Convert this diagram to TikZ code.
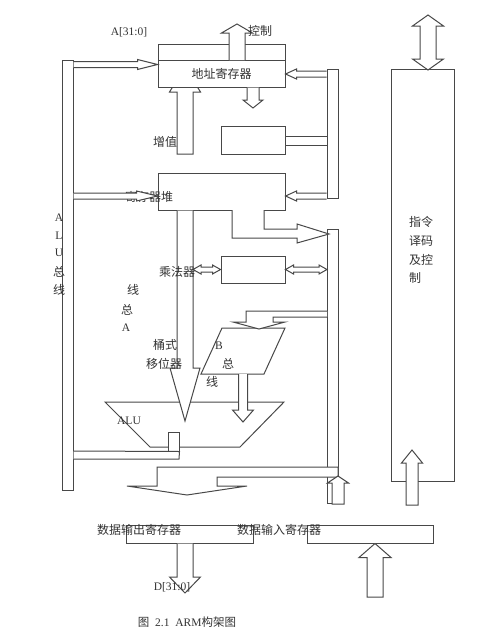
\documentclass[tikz,border=0pt]{standalone}
\usepackage{fontspec}
\setmainfont{Liberation Serif}
\newfontfamily\cjk{Noto Sans CJK SC}
\usetikzlibrary{calc}
\definecolor{ink}{HTML}{484848}
\definecolor{txt}{HTML}{333333}
\tikzset{
  box/.style={rectangle,draw=ink,fill=white,line width=1pt,inner sep=0pt,font=\fontsize{12}{12}\cjk,text=txt},
  wire/.style={draw=ink,fill=white,line width=1pt,line join=miter},
  lbl/.style={inner sep=0pt,font=\fontsize{12}{12}\cjk,text=txt},
  lat/.style={inner sep=0pt,font=\fontsize{11.5}{12}\selectfont,text=txt},
}
% from, to, shaft half width, head half width, head length; [-- cycle] closes the tail
\newcommand{\blockar}[6][]{%
  \coordinate (hb) at ($(#3)!#6pt!(#2)$);
  \draw[wire] ($(#2)!#4pt!90:(#3)$) -- ($(hb)!#4pt!90:(#3)$) -- ($(hb)!#5pt!90:(#3)$) -- (#3)
    -- ($(hb)!#5pt!-90:(#3)$) -- ($(hb)!#4pt!-90:(#3)$) -- ($(#2)!#4pt!-90:(#3)$) #1;}
\newcommand{\twinar}[5]{%
  \coordinate (ha) at ($(#1)!#5pt!(#2)$);
  \coordinate (hb) at ($(#2)!#5pt!(#1)$);
  \draw[wire] (#1) -- ($(ha)!#4pt!90:(#2)$) -- ($(ha)!#3pt!90:(#2)$) -- ($(hb)!#3pt!-90:(#1)$) -- ($(hb)!#4pt!-90:(#1)$) -- (#2)
    -- ($(hb)!#4pt!90:(#1)$) -- ($(hb)!#3pt!90:(#1)$) -- ($(ha)!#3pt!-90:(#2)$) -- ($(ha)!#4pt!-90:(#2)$) -- cycle;}
\begin{document}
\begin{tikzpicture}[x=1pt,y=-1pt]
  \path[use as bounding box,fill=white] (0,0) rectangle (491,640);
  % arrow whose tip sits behind the address register
  \coordinate (inctail) at (185,154);
  \coordinate (inctip) at (185,67);
  \blockar[-- cycle]{inctail}{inctip}{8}{15.5}{25}
  % registers
  \node[box,minimum width=127pt,minimum height=16pt] (addrtop) at (221.5,52) {};
  \node[box,minimum width=127pt,minimum height=27pt] (addr) at (221.5,73.5) {地址寄存器};
  \node[box,minimum width=64pt,minimum height=28pt] (inc) at (253,140) {};
  \node[box,minimum width=127pt,minimum height=37pt] (regs) at (221.5,191.5) {};
  \node[box,minimum width=64pt,minimum height=27pt] (mul) at (253,269.5) {};
  \node[box,minimum width=63pt,minimum height=412pt] (ctrl) at (422.5,275) {};
  \node[box,minimum width=127pt,minimum height=18pt] (dout) at (189.5,534) {};
  \node[box,minimum width=126pt,minimum height=18pt] (din) at (370,534) {};
  % buses
  \node[box,minimum width=11pt,minimum height=430pt] (alubus) at (67.5,275) {};
  \node[box,minimum width=11pt,minimum height=129pt] (rbusa) at (332.5,133.5) {};
  \draw[wire] (327,503) -- (327,229) -- (338,229) -- (338,477);
  \draw[wire,fill=none] (327,503) -- (333,503);
  % shifter and ALU
  \draw[wire] (222,328) -- (285,328) -- (264,374) -- (201,374) -- cycle;
  \draw[wire] (105,402) -- (284,402) -- (240,447) -- (150,447) -- cycle;
  % text the arrow runs over
  \node[lbl] (regtxt) at (149,197) {寄存器堆};
  % address side arrows
  \blockar{alubus.east |- 0,64.5}{addr.west |- 0,64.5}{3}{5}{20}
  \blockar{rbusa.west |- 0,74}{addr.east |- 0,74}{3}{5}{11}
  \blockar{addr.south -| 253,0}{253,108}{6}{10}{8}
  \coordinate (ctltail) at (237,60);
  \coordinate (ctltip) at (237,24);
  \blockar{ctltail}{ctltip}{8}{15.5}{9}
  \foreach \y in {136,145} \draw[wire] (inc.east |- 0,\y) -- (rbusa.west |- 0,\y);
  % register file arrows
  \blockar{alubus.east |- 0,196}{regs.west |- 0,196}{3}{5}{21}
  \blockar{rbusa.west |- 0,196}{regs.east |- 0,196}{3}{5}{11}
  \draw[wire] (232,210) -- (232,238) -- (297,238) -- (297,243) -- (329,234) -- (297,224) -- (297,229) -- (264,229) -- (264,210);
  \blockar{regs.south -| 185,0}{185,421}{8}{15}{53}
  % multiplier
  \twinar{193,269.5}{mul.west}{2.5}{4.5}{8}
  \twinar{mul.east}{327,269.5}{2.5}{4.5}{8}
  % barrel shifter in and out
  \draw[wire] (327,311) -- (246,311) -- (246,322) -- (233,322) -- (259,329) -- (285,322) -- (273,322) -- (273,317) -- (327,317);
  \blockar{243,374}{243,422}{4.5}{10.5}{12}
  % ALU out
  \node[box,minimum width=11pt,minimum height=19pt] (aluout) at (173.5,441.5) {};
  \draw[wire] (alubus.east |- 0,451) -- (aluout.south east) -- (179,459) -- (alubus.east |- 0,459);
  % data out band
  \draw[wire] (338,467) -- (157,467) -- (157,486) -- (127,486) -- (187,495) -- (247,486) -- (217,486) -- (217,477) -- (338,477) -- cycle;
  \blockar[-- cycle]{338,504}{338,476}{6}{10.5}{7}
  % instruction decode
  \twinar{428,15}{428,70}{8}{15.5}{11}
  \blockar[-- cycle]{412,505}{412,450}{6}{10.5}{13}
  % data registers
  \blockar{dout.south -| 185,0}{185,593}{8}{15.5}{16}
  \blockar[-- cycle]{375,597}{din.south -| 375,0}{8}{16}{14}
  % labels
  \node[lat] (dbus) at (172,587) {D[31:0]};
  \node[lat] (addrbus) at (129,32) {A[31:0]};
  \node[lbl] (ctl) at (260,31) {控制};
  \node[lbl] (inctxt) at (165,142) {增值};
  \foreach \t/\y/\f in {A/218/lat,L/236/lat,U/253/lat,总/272/lbl,线/290/lbl}
    \node[\f] (alu\y) at (59,\y) {\t};
  \node[lbl] (abusa) at (133,290) {线};
  \node[lbl] (abusb) at (127,310) {总};
  \node[lat] (abusc) at (126,328) {A};
  \node[lbl] (multxt) at (177,272) {乘法器};
  \node[lbl] (shifta) at (165,345) {桶式};
  \node[lbl] (shiftb) at (164,364) {移位器};
  \node[lat] (bbusa) at (219,346) {B};
  \node[lbl] (bbusb) at (228,364) {总};
  \node[lbl] (bbusc) at (212,382) {线};
  \node[lat] (alutxt) at (129,421) {ALU};
  \foreach \t/\y in {指令/222,译码/241,及控/260,制/278}
    \node[lbl,anchor=west] (dec\y) at (409,\y) {\t};
  \node[lbl] (douttxt) at (139,530) {数据输出寄存器};
  \node[lbl] (dintxt) at (279,530) {数据输入寄存器};
  \node[lat] (cap) at (187,622) {{\cjk 图}\ \ 2.1\ \ ARM{\cjk 构架图}};
\end{tikzpicture}
\end{document}
